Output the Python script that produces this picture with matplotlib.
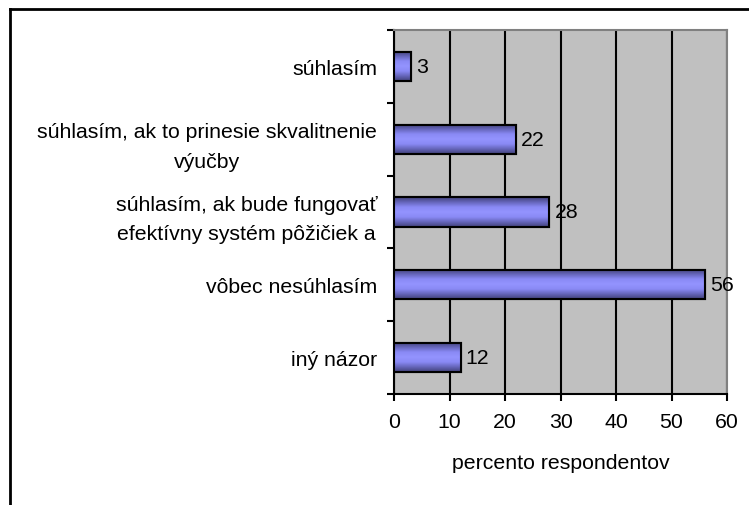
import matplotlib
matplotlib.use("Agg")
import matplotlib.pyplot as plt
import numpy as np
from matplotlib.colors import LinearSegmentedColormap
from matplotlib.lines import Line2D

plt.rcParams['font.family'] = ['Liberation Sans', 'DejaVu Sans']

categories = [
    "súhlasím",
    "súhlasím, ak to prinesie skvalitnenie\nvýučby",
    "súhlasím, ak bude fungovať\nefektívny systém pôžičiek a",
    "vôbec nesúhlasím",
    "iný názor",
]
values = [3, 22, 28, 56, 12]
xticks = [0, 10, 20, 30, 40, 50, 60]
xlabel = "percento respondentov"

FS = 15.3

fig = plt.figure(figsize=(7.49, 5.06), dpi=100)
ax = fig.add_axes([394/749, 1-395/506, (727-394)/749, (395-31)/506])
ax.set_facecolor("#C0C0C0")

cmap = LinearSegmentedColormap.from_list(
    "bar", ["#42427a", "#6666bb", "#8a8af5", "#9494ff", "#8a8af5", "#6666bb", "#42427a"])
grad = np.linspace(0, 1, 64).reshape(-1, 1)

pos = np.arange(len(categories))
h = 0.4
bars = ax.barh(pos, values, height=h, color="#8c8cf8", edgecolor="black", linewidth=1.5, zorder=3)
for i, b in enumerate(bars):
    x0, y0 = b.get_x(), b.get_y()
    w, hh = b.get_width(), b.get_height()
    im = ax.imshow(grad, cmap=cmap, aspect="auto", extent=[x0, x0 + w, y0 + hh, y0],
                   zorder=3.5, interpolation="bilinear")
    im.set_clip_path(b)
    edge = plt.Rectangle((x0, y0), w, hh, fill=False, edgecolor="black", linewidth=1.5, zorder=4)
    ax.add_patch(edge)
    ax.text(x0 + w + 0.9, y0 + hh / 2, str(values[i]),
            va="center", ha="left", fontsize=FS, zorder=5)

ax.set_xlim(0, 60)
ax.set_ylim(len(categories) - 0.5, -0.5)
ax.set_xticks(xticks)
ax.set_xticklabels([str(t) for t in xticks], fontsize=FS)
ax.xaxis.grid(True, color="black", linewidth=1.5)
ax.set_axisbelow(True)
ax.tick_params(axis="x", direction="out", length=5, width=1.5, pad=8)

ax.set_yticks(pos)
ax.set_yticklabels(categories, fontsize=FS, multialignment="center", linespacing=1.7)
ax.set_yticks(np.arange(-0.5, len(categories)), minor=True)
ax.tick_params(axis="y", which="major", length=0, pad=12)
ax.tick_params(axis="y", which="minor", direction="out", length=5, width=1.5)

ax.set_xlabel(xlabel, fontsize=FS, labelpad=16)

for s in ["left", "bottom"]:
    ax.spines[s].set_color("black")
    ax.spines[s].set_linewidth(1.5)
for s in ["top", "right"]:
    ax.spines[s].set_color("#808080")
    ax.spines[s].set_linewidth(1.5)

fig.add_artist(Line2D([10/749, 10/749], [0, 1-10/506], transform=fig.transFigure, color="black", linewidth=2))
fig.add_artist(Line2D([10/749, 1], [1-10/506, 1-10/506], transform=fig.transFigure, color="black", linewidth=2))

fig.savefig("out.png", dpi=100)
